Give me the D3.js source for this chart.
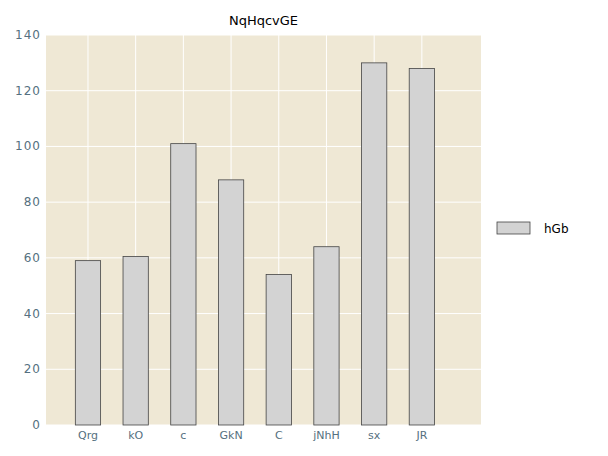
<!DOCTYPE html><html><head><script src="https://cdn.jsdelivr.net/npm/d3@7"></script>
<style>body{margin:0;background:#fff}text{font-family:"DejaVu Sans",sans-serif}</style></head><body>
<svg id="c" width="608" height="456"></svg>
<script>
const categories=["Qrg","kO","c","GkN","C","jNhH","sx","JR"];
const values=[59,60.5,101,88,54,64,130,128];
const yTicks=[0,20,40,60,80,100,120,140];
const svg=d3.select("#c");
const L=46,R=481,T=35,B=425;
const x=d3.scaleLinear().domain([-0.88,8.24]).range([L,R]);
const y=d3.scaleLinear().domain([0,140]).range([B,T]);
svg.append("rect").attr("x",L).attr("y",T).attr("width",R-L).attr("height",B-T).attr("fill","#efe8d5");
const g=svg.append("g");
yTicks.forEach(t=>g.append("line").attr("x1",L).attr("x2",R).attr("y1",y(t)).attr("y2",y(t)).attr("stroke","#fff").attr("stroke-width",1));
categories.forEach((c,i)=>g.append("line").attr("x1",x(i)).attr("x2",x(i)).attr("y1",T).attr("y2",B).attr("stroke","#fff").attr("stroke-width",1));
const bw=x(0.53)-x(0);
svg.selectAll(".bar").data(values).join("rect").attr("x",(d,i)=>x(i)-bw/2).attr("width",bw)
 .attr("y",d=>y(d)).attr("height",d=>B-y(d)).attr("fill","#d3d3d3").attr("stroke","#444").attr("stroke-width",0.8);
yTicks.forEach(t=>svg.append("text").attr("x",L-5).attr("y",y(t)+4).attr("text-anchor","end").attr("font-size",12).attr("fill","#557080").attr("letter-spacing",1).text(t));
categories.forEach((c,i)=>svg.append("text").attr("x",x(i)).attr("y",B+14).attr("text-anchor","middle").attr("font-size",11).attr("fill","#557080").text(c));
svg.append("text").attr("x",(L+R)/2).attr("y",25).attr("text-anchor","middle").attr("font-size",13).attr("fill","#000").text("NqHqcvGE");
svg.append("rect").attr("x",497).attr("y",222).attr("width",33).attr("height",12).attr("fill","#d3d3d3").attr("stroke","#444").attr("stroke-width",0.8);
svg.append("text").attr("x",544).attr("y",233).attr("font-size",12).attr("fill","#000").text("hGb");
</script></body></html>
